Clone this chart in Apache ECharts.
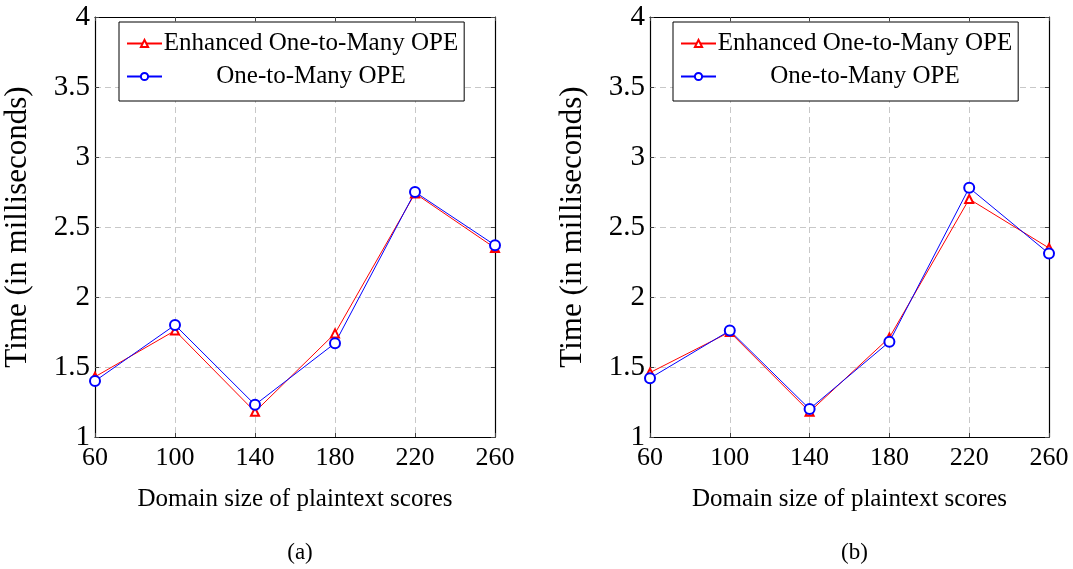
<!DOCTYPE html>
<html>
<head>
<meta charset="utf-8">
<script src="https://cdn.jsdelivr.net/npm/echarts@6/dist/echarts.min.js"></script>
<style>
html,body{margin:0;padding:0;background:#fff;}
#chart{width:1073px;height:569px;}
</style>
</head>
<body>
<div id="chart"></div>
<script>
const categories = ['60', '100', '140', '180', '220', '260'];
const enhancedA = [1.43, 1.76, 1.18, 1.74, 2.74, 2.35];
const oneToManyA = [1.40, 1.80, 1.23, 1.67, 2.75, 2.37];
const enhancedB = [1.46, 1.75, 1.18, 1.71, 2.70, 2.35];
const oneToManyB = [1.42, 1.76, 1.20, 1.68, 2.78, 2.31];
const nameEnh = 'Enhanced One-to-Many OPE';
const nameOne = 'One-to-Many OPE';
const captions = ['(a)', '(b)'];
const xName = 'Domain size of plaintext scores';
const yName = 'Time (in milliseconds)';

const FONT = '"Liberation Serif", "Times New Roman", serif';
const chart = echarts.init(document.getElementById('chart'));

const grids = [
  {left: 95, right: 578, top: 17, bottom: 132},
  {left: 650, right: 24, top: 17, bottom: 132}
];

const xAxes = [], yAxes = [], series = [], legends = [], titles = [];
grids.forEach((g, i) => {
  xAxes.push({
    gridIndex: i, type: 'category', data: categories, boundaryGap: false,
    name: xName, nameLocation: 'middle', nameGap: 50,
    nameTextStyle: {fontFamily: FONT, fontSize: 25, color: '#000'},
    axisLine: {show: true, lineStyle: {color: '#000', width: 1.2}},
    axisTick: {show: true, inside: true, length: 4, lineStyle: {color: '#444'}},
    axisLabel: {fontFamily: FONT, fontSize: 26, color: '#000', margin: 8},
    splitLine: {show: true, lineStyle: {color: '#c8c8c8', type: [6, 4], width: 1}}
  });
  xAxes.push({
    gridIndex: i, type: 'category', data: categories, boundaryGap: false, position: 'top',
    axisLine: {show: true, lineStyle: {color: '#000', width: 1.2}},
    axisTick: {show: true, inside: true, length: 4, lineStyle: {color: '#444'}},
    axisLabel: {show: false}, splitLine: {show: false}
  });
  yAxes.push({
    gridIndex: i, type: 'value', min: 1, max: 4, interval: 0.5,
    name: yName, nameLocation: 'middle', nameGap: 62,
    nameTextStyle: {fontFamily: FONT, fontSize: 31, color: '#000'},
    axisLine: {show: true, lineStyle: {color: '#000', width: 1.2}},
    axisTick: {show: true, inside: true, length: 4, lineStyle: {color: '#444'}},
    axisLabel: {fontFamily: FONT, fontSize: 29, color: '#000', margin: 5},
    splitLine: {show: true, lineStyle: {color: '#c8c8c8', type: [6, 4], width: 1}}
  });
  yAxes.push({
    gridIndex: i, type: 'value', min: 1, max: 4, interval: 0.5, position: 'right',
    axisLine: {show: true, lineStyle: {color: '#000', width: 1.2}},
    axisTick: {show: true, inside: true, length: 4, lineStyle: {color: '#444'}},
    axisLabel: {show: false}, splitLine: {show: false}
  });
  const enh = i === 0 ? enhancedA : enhancedB;
  const one = i === 0 ? oneToManyA : oneToManyB;
  series.push({
    name: nameEnh, type: 'line', xAxisIndex: i * 2, yAxisIndex: i * 2, data: enh,
    symbol: 'emptyTriangle', symbolSize: 8, itemStyle: {color: '#ff0000', borderWidth: 1},
    lineStyle: {color: '#ff0000', width: 1}, animation: false
  });
  series.push({
    name: nameOne, type: 'line', xAxisIndex: i * 2, yAxisIndex: i * 2, data: one,
    symbol: 'emptyCircle', symbolSize: 10, itemStyle: {color: '#0000ff', borderWidth: 1},
    lineStyle: {color: '#0000ff', width: 1}, animation: false
  });
  legends.push({
    left: i === 0 ? 119 : 673, top: 22, orient: 'vertical',
    data: [nameEnh, nameOne],
    borderColor: '#000', borderWidth: 1, backgroundColor: '#fff',
    padding: [9, 6, 12, 7], itemWidth: 35, itemHeight: 9, itemGap: 8,
    selectedMode: false,
    formatter: n => '{t|' + n + '}',
    textStyle: {
      rich: {t: {fontFamily: FONT, fontSize: 25, color: '#000', width: 288, align: 'center', lineHeight: 27}}
    }
  });
  titles.push({
    text: captions[i], left: (g.left + (1073 - g.right)) / 2, top: 536, textAlign: 'center',
    textStyle: {fontFamily: FONT, fontSize: 23, fontWeight: 'normal', color: '#000'}
  });
});

chart.setOption({
  animation: false,
  title: titles,
  grid: grids,
  xAxis: xAxes,
  yAxis: yAxes,
  legend: legends,
  series: series
});
</script>
</body>
</html>
